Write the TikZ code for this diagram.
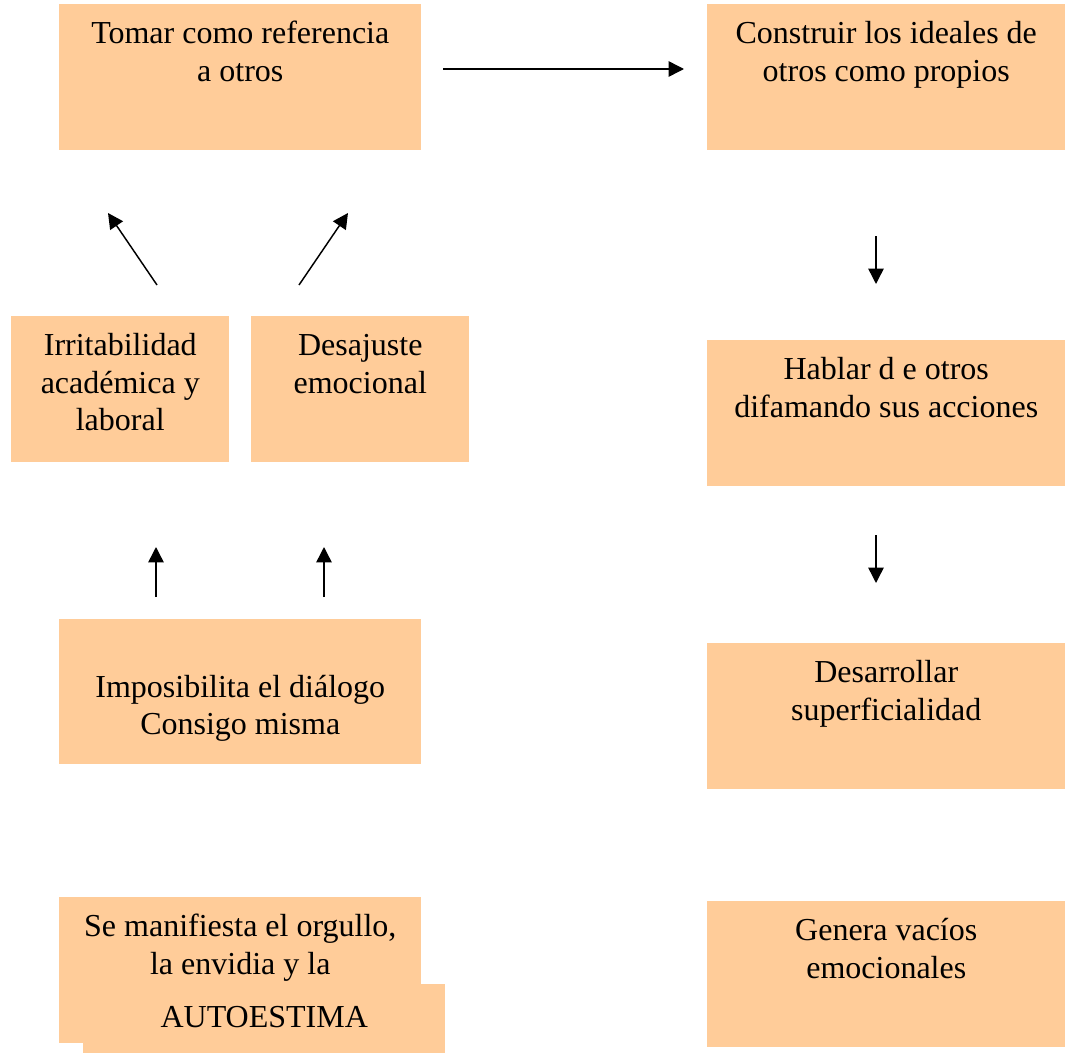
\documentclass[tikz,border=0pt]{standalone}
\usepackage{fontspec}
\setmainfont{Liberation Serif}
\usetikzlibrary{arrows.meta,positioning}
\definecolor{naranja}{HTML}{FFCC99}
\tikzset{
  caja/.style={fill=naranja, inner sep=0pt, anchor=north west, align=flush center, text width=#1, text height=29.6pt, text depth=79.9pt},
  flecha/.style={line width=1.1pt, -{Triangle[length=11.5pt,width=11.5pt]}}
}
\begin{document}
\begin{tikzpicture}[x=0.75pt,y=-0.75pt]

		\fontsize{24}{28}\selectfont
		\useasboundingbox (0,0) rectangle (1065,1053);
		\node[caja=271.5pt] (tomar) at (59,4) {Tomar como referencia\\a otros};
		\node[caja=268.5pt] (construir) at (707,4) {Construir los ideales de\\otros como propios};
		\node[caja=163.5pt] (irritabilidad) at (11,316) {Irritabilidad\\académica y\\laboral};
		\node[caja=163.5pt] (desajuste) at (251,316) {Desajuste\\emocional};
		\node[caja=268.5pt] (hablar) at (707,340) {Hablar d e otros\\difamando sus acciones};
		\node[caja=271.5pt, text height=58.5pt, text depth=50.25pt] (imposibilita) at (59,619) {Imposibilita el diálogo\\Consigo misma};
		\node[caja=268.5pt] (desarrollar) at (707,643) {Desarrollar\\superficialidad};
		\node[caja=271.5pt] (manifiesta) at (59,897) {Se manifiesta el orgullo,\\la envidia y la};
		\node[caja=271.5pt, text height=32.25pt, text depth=19.5pt] (autoestima) at (83,984) {AUTOESTIMA};
		\node[caja=268.5pt] (genera) at (707,901) {Genera vacíos\\emocionales};

		\coordinate (t1) at (443,69);  \coordinate (t2) at (684,69);
		\coordinate (i1) at (157,285); \coordinate (i2) at (108,213);
		\coordinate (d1) at (299,285); \coordinate (d2) at (348,213);
		\coordinate (c1) at (876,236); \coordinate (c2) at (876,284);
		\coordinate (h1) at (876,535); \coordinate (h2) at (876,583);
		\coordinate (p1) at (156,597); \coordinate (p2) at (156,547);
		\coordinate (q1) at (324,597); \coordinate (q2) at (324,547);

		\draw[flecha] (t1)--(t2);
		\draw[flecha] (i1)--(i2);
		\draw[flecha] (d1)--(d2);
		\draw[flecha] (c1)--(c2);
		\draw[flecha] (h1)--(h2);
		\draw[flecha] (p1)--(p2);
		\draw[flecha] (q1)--(q2);
		\end{tikzpicture}
\end{document}
